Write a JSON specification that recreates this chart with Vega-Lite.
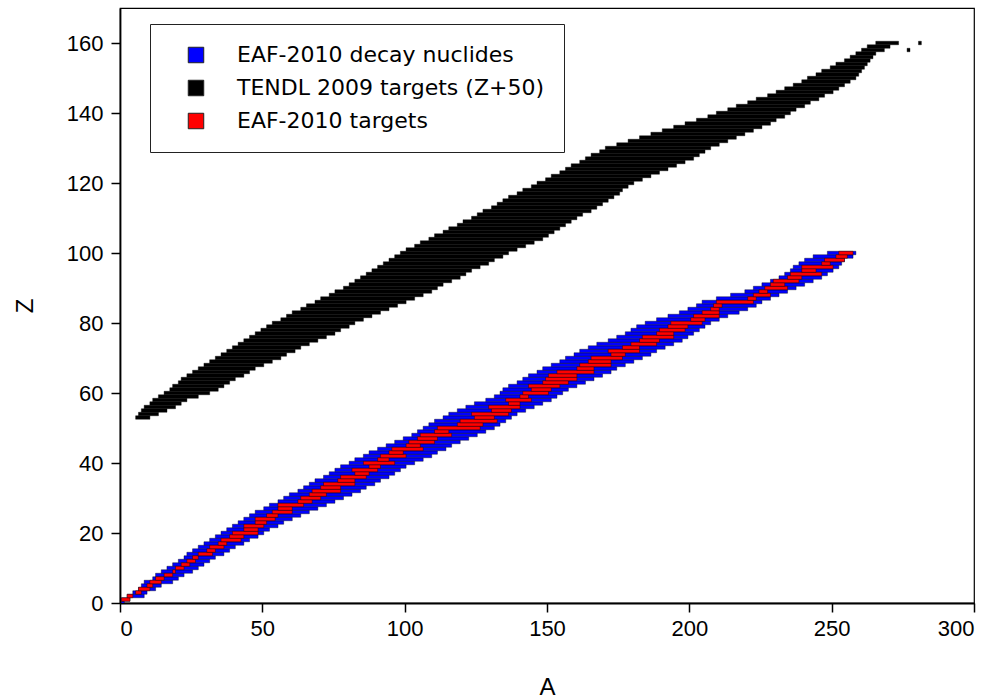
{
  "$schema": "https://vega.github.io/schema/vega-lite/v6.json",
  "autosize": {"type": "none"},
  "padding": {"left": 120, "top": 8, "right": 21, "bottom": 96},
  "width": 854,
  "height": 595,
  "background": "white",
  "config": {
    "view": {"stroke": "black", "strokeWidth": 1.2},
    "axis": {
      "grid": false,
      "domainColor": "black",
      "domainWidth": 1.8,
      "tickColor": "black",
      "tickWidth": 1.5,
      "tickSize": 9,
      "labelFont": "Liberation Sans",
      "labelFontSize": 22,
      "labelColor": "black",
      "titleFont": "Liberation Sans",
      "titleFontSize": 24,
      "titleFontWeight": "normal",
      "titleColor": "black"
    }
  },
  "data": {"values": [
{"s":"k","Z":53,"lo":6,"hi":10},{"s":"k","Z":54,"lo":7,"hi":13},{"s":"k","Z":55,"lo":8,"hi":16},{"s":"k","Z":56,"lo":9,"hi":19},{"s":"k","Z":57,"lo":11,"hi":21},{"s":"k","Z":58,"lo":12,"hi":23},{"s":"k","Z":59,"lo":14,"hi":27},{"s":"k","Z":60,"lo":16,"hi":31},{"s":"k","Z":61,"lo":18,"hi":34},{"s":"k","Z":62,"lo":19,"hi":36},{"s":"k","Z":63,"lo":21,"hi":38},{"s":"k","Z":64,"lo":22,"hi":40},{"s":"k","Z":65,"lo":24,"hi":43},{"s":"k","Z":66,"lo":26,"hi":45},{"s":"k","Z":67,"lo":28,"hi":47},{"s":"k","Z":68,"lo":30,"hi":50},{"s":"k","Z":69,"lo":32,"hi":53},{"s":"k","Z":70,"lo":34,"hi":56},{"s":"k","Z":71,"lo":36,"hi":58},{"s":"k","Z":72,"lo":38,"hi":61},{"s":"k","Z":73,"lo":40,"hi":63},{"s":"k","Z":74,"lo":42,"hi":66},{"s":"k","Z":75,"lo":44,"hi":69},{"s":"k","Z":76,"lo":46,"hi":72},{"s":"k","Z":77,"lo":48,"hi":75},{"s":"k","Z":78,"lo":50,"hi":77},{"s":"k","Z":79,"lo":52,"hi":80},{"s":"k","Z":80,"lo":54,"hi":82},{"s":"k","Z":81,"lo":57,"hi":85},{"s":"k","Z":82,"lo":59,"hi":88},{"s":"k","Z":83,"lo":61,"hi":91},{"s":"k","Z":84,"lo":64,"hi":94},{"s":"k","Z":85,"lo":66,"hi":97},{"s":"k","Z":86,"lo":69,"hi":100},{"s":"k","Z":87,"lo":71,"hi":103},{"s":"k","Z":88,"lo":74,"hi":106},{"s":"k","Z":89,"lo":76,"hi":109},{"s":"k","Z":90,"lo":79,"hi":111},{"s":"k","Z":91,"lo":81,"hi":113},{"s":"k","Z":92,"lo":83,"hi":116},{"s":"k","Z":93,"lo":85,"hi":119},{"s":"k","Z":94,"lo":87,"hi":121},{"s":"k","Z":95,"lo":89,"hi":123},{"s":"k","Z":96,"lo":91,"hi":126},{"s":"k","Z":97,"lo":93,"hi":129},{"s":"k","Z":98,"lo":95,"hi":131},{"s":"k","Z":99,"lo":97,"hi":134},{"s":"k","Z":100,"lo":99,"hi":136},{"s":"k","Z":101,"lo":101,"hi":139},{"s":"k","Z":102,"lo":104,"hi":142},{"s":"k","Z":103,"lo":106,"hi":145},{"s":"k","Z":104,"lo":109,"hi":148},{"s":"k","Z":105,"lo":111,"hi":150},{"s":"k","Z":106,"lo":114,"hi":152},{"s":"k","Z":107,"lo":116,"hi":154},{"s":"k","Z":108,"lo":119,"hi":156},{"s":"k","Z":109,"lo":121,"hi":158},{"s":"k","Z":110,"lo":124,"hi":160},{"s":"k","Z":111,"lo":126,"hi":162},{"s":"k","Z":112,"lo":128,"hi":165},{"s":"k","Z":113,"lo":131,"hi":167},{"s":"k","Z":114,"lo":133,"hi":169},{"s":"k","Z":115,"lo":135,"hi":171},{"s":"k","Z":116,"lo":137,"hi":173},{"s":"k","Z":117,"lo":140,"hi":175},{"s":"k","Z":118,"lo":142,"hi":176},{"s":"k","Z":119,"lo":145,"hi":178},{"s":"k","Z":120,"lo":147,"hi":180},{"s":"k","Z":121,"lo":150,"hi":183},{"s":"k","Z":122,"lo":152,"hi":186},{"s":"k","Z":123,"lo":155,"hi":189},{"s":"k","Z":124,"lo":157,"hi":192},{"s":"k","Z":125,"lo":159,"hi":195},{"s":"k","Z":126,"lo":162,"hi":198},{"s":"k","Z":127,"lo":164,"hi":201},{"s":"k","Z":128,"lo":166,"hi":203},{"s":"k","Z":129,"lo":169,"hi":205},{"s":"k","Z":130,"lo":171,"hi":207},{"s":"k","Z":131,"lo":175,"hi":210},{"s":"k","Z":132,"lo":179,"hi":213},{"s":"k","Z":133,"lo":183,"hi":216},{"s":"k","Z":134,"lo":187,"hi":219},{"s":"k","Z":135,"lo":191,"hi":222},{"s":"k","Z":136,"lo":195,"hi":225},{"s":"k","Z":137,"lo":199,"hi":228},{"s":"k","Z":138,"lo":203,"hi":230},{"s":"k","Z":139,"lo":207,"hi":233},{"s":"k","Z":140,"lo":210,"hi":235},{"s":"k","Z":141,"lo":214,"hi":237},{"s":"k","Z":142,"lo":217,"hi":240},{"s":"k","Z":143,"lo":221,"hi":242},{"s":"k","Z":144,"lo":224,"hi":245},{"s":"k","Z":145,"lo":228,"hi":247},{"s":"k","Z":146,"lo":231,"hi":250},{"s":"k","Z":147,"lo":234,"hi":252},{"s":"k","Z":148,"lo":237,"hi":254},{"s":"k","Z":149,"lo":240,"hi":256},{"s":"k","Z":150,"lo":242,"hi":258},{"s":"k","Z":151,"lo":245,"hi":259},{"s":"k","Z":152,"lo":247,"hi":260},{"s":"k","Z":153,"lo":250,"hi":261},{"s":"k","Z":154,"lo":252,"hi":262},{"s":"k","Z":155,"lo":255,"hi":263},{"s":"k","Z":156,"lo":257,"hi":264},{"s":"k","Z":157,"lo":259,"hi":265},{"s":"k","Z":158,"lo":261,"hi":268},{"s":"k","Z":158,"lo":277,"hi":277},{"s":"k","Z":159,"lo":263,"hi":270},{"s":"k","Z":160,"lo":266,"hi":273},{"s":"k","Z":160,"lo":281,"hi":281},
{"s":"b","Z":0,"lo":1,"hi":1},{"s":"b","Z":1,"lo":1,"hi":3},{"s":"b","Z":2,"lo":3,"hi":8},{"s":"b","Z":3,"lo":5,"hi":9},{"s":"b","Z":4,"lo":7,"hi":12},{"s":"b","Z":5,"lo":8,"hi":14},{"s":"b","Z":6,"lo":9,"hi":18},{"s":"b","Z":7,"lo":12,"hi":20},{"s":"b","Z":8,"lo":13,"hi":22},{"s":"b","Z":9,"lo":15,"hi":25},{"s":"b","Z":10,"lo":17,"hi":27},{"s":"b","Z":11,"lo":19,"hi":29},{"s":"b","Z":12,"lo":21,"hi":31},{"s":"b","Z":13,"lo":23,"hi":33},{"s":"b","Z":14,"lo":24,"hi":36},{"s":"b","Z":15,"lo":26,"hi":38},{"s":"b","Z":16,"lo":28,"hi":40},{"s":"b","Z":17,"lo":30,"hi":43},{"s":"b","Z":18,"lo":32,"hi":45},{"s":"b","Z":19,"lo":34,"hi":48},{"s":"b","Z":20,"lo":36,"hi":50},{"s":"b","Z":21,"lo":38,"hi":52},{"s":"b","Z":22,"lo":40,"hi":55},{"s":"b","Z":23,"lo":42,"hi":57},{"s":"b","Z":24,"lo":44,"hi":60},{"s":"b","Z":25,"lo":46,"hi":63},{"s":"b","Z":26,"lo":48,"hi":66},{"s":"b","Z":27,"lo":51,"hi":69},{"s":"b","Z":28,"lo":53,"hi":72},{"s":"b","Z":29,"lo":56,"hi":75},{"s":"b","Z":30,"lo":58,"hi":78},{"s":"b","Z":31,"lo":60,"hi":81},{"s":"b","Z":32,"lo":63,"hi":84},{"s":"b","Z":33,"lo":65,"hi":86},{"s":"b","Z":34,"lo":67,"hi":89},{"s":"b","Z":35,"lo":69,"hi":91},{"s":"b","Z":36,"lo":72,"hi":94},{"s":"b","Z":37,"lo":74,"hi":96},{"s":"b","Z":38,"lo":76,"hi":98},{"s":"b","Z":39,"lo":78,"hi":100},{"s":"b","Z":40,"lo":81,"hi":103},{"s":"b","Z":41,"lo":83,"hi":106},{"s":"b","Z":42,"lo":86,"hi":109},{"s":"b","Z":43,"lo":88,"hi":111},{"s":"b","Z":44,"lo":91,"hi":114},{"s":"b","Z":45,"lo":94,"hi":116},{"s":"b","Z":46,"lo":97,"hi":119},{"s":"b","Z":47,"lo":100,"hi":122},{"s":"b","Z":48,"lo":103,"hi":125},{"s":"b","Z":49,"lo":105,"hi":128},{"s":"b","Z":50,"lo":107,"hi":131},{"s":"b","Z":51,"lo":109,"hi":133},{"s":"b","Z":52,"lo":111,"hi":135},{"s":"b","Z":53,"lo":114,"hi":137},{"s":"b","Z":54,"lo":116,"hi":139},{"s":"b","Z":55,"lo":119,"hi":142},{"s":"b","Z":56,"lo":122,"hi":145},{"s":"b","Z":57,"lo":125,"hi":148},{"s":"b","Z":58,"lo":129,"hi":151},{"s":"b","Z":59,"lo":132,"hi":153},{"s":"b","Z":60,"lo":134,"hi":155},{"s":"b","Z":61,"lo":135,"hi":157},{"s":"b","Z":62,"lo":137,"hi":160},{"s":"b","Z":63,"lo":140,"hi":163},{"s":"b","Z":64,"lo":142,"hi":166},{"s":"b","Z":65,"lo":144,"hi":169},{"s":"b","Z":66,"lo":147,"hi":172},{"s":"b","Z":67,"lo":149,"hi":174},{"s":"b","Z":68,"lo":152,"hi":177},{"s":"b","Z":69,"lo":155,"hi":180},{"s":"b","Z":70,"lo":157,"hi":183},{"s":"b","Z":71,"lo":160,"hi":186},{"s":"b","Z":72,"lo":162,"hi":188},{"s":"b","Z":73,"lo":165,"hi":191},{"s":"b","Z":74,"lo":168,"hi":194},{"s":"b","Z":75,"lo":172,"hi":197},{"s":"b","Z":76,"lo":175,"hi":199},{"s":"b","Z":77,"lo":178,"hi":201},{"s":"b","Z":78,"lo":180,"hi":203},{"s":"b","Z":79,"lo":182,"hi":205},{"s":"b","Z":80,"lo":185,"hi":207},{"s":"b","Z":81,"lo":189,"hi":210},{"s":"b","Z":82,"lo":193,"hi":213},{"s":"b","Z":83,"lo":197,"hi":217},{"s":"b","Z":84,"lo":200,"hi":220},{"s":"b","Z":85,"lo":203,"hi":223},{"s":"b","Z":86,"lo":205,"hi":225},{"s":"b","Z":87,"lo":210,"hi":228},{"s":"b","Z":88,"lo":215,"hi":231},{"s":"b","Z":89,"lo":220,"hi":234},{"s":"b","Z":90,"lo":223,"hi":237},{"s":"b","Z":91,"lo":226,"hi":240},{"s":"b","Z":92,"lo":229,"hi":243},{"s":"b","Z":93,"lo":232,"hi":246},{"s":"b","Z":94,"lo":234,"hi":248},{"s":"b","Z":95,"lo":236,"hi":250},{"s":"b","Z":96,"lo":237,"hi":252},{"s":"b","Z":97,"lo":239,"hi":253},{"s":"b","Z":98,"lo":241,"hi":254},{"s":"b","Z":99,"lo":244,"hi":257},{"s":"b","Z":100,"lo":249,"hi":258},
{"s":"r","Z":1,"lo":1,"hi":3},{"s":"r","Z":2,"lo":3,"hi":4},{"s":"r","Z":3,"lo":6,"hi":7},{"s":"r","Z":4,"lo":7,"hi":10},{"s":"r","Z":5,"lo":10,"hi":11},{"s":"r","Z":6,"lo":11,"hi":14},{"s":"r","Z":7,"lo":13,"hi":15},{"s":"r","Z":8,"lo":16,"hi":18},{"s":"r","Z":9,"lo":19,"hi":19},{"s":"r","Z":10,"lo":20,"hi":22},{"s":"r","Z":11,"lo":22,"hi":24},{"s":"r","Z":12,"lo":24,"hi":26},{"s":"r","Z":13,"lo":26,"hi":27},{"s":"r","Z":14,"lo":28,"hi":32},{"s":"r","Z":15,"lo":31,"hi":33},{"s":"r","Z":16,"lo":32,"hi":36},{"s":"r","Z":17,"lo":35,"hi":37},{"s":"r","Z":18,"lo":36,"hi":42},{"s":"r","Z":19,"lo":39,"hi":43},{"s":"r","Z":20,"lo":40,"hi":48},{"s":"r","Z":21,"lo":44,"hi":48},{"s":"r","Z":22,"lo":44,"hi":50},{"s":"r","Z":23,"lo":48,"hi":51},{"s":"r","Z":24,"lo":48,"hi":54},{"s":"r","Z":25,"lo":52,"hi":55},{"s":"r","Z":26,"lo":54,"hi":60},{"s":"r","Z":27,"lo":56,"hi":60},{"s":"r","Z":28,"lo":56,"hi":64},{"s":"r","Z":29,"lo":63,"hi":67},{"s":"r","Z":30,"lo":64,"hi":70},{"s":"r","Z":31,"lo":67,"hi":72},{"s":"r","Z":32,"lo":68,"hi":77},{"s":"r","Z":33,"lo":71,"hi":77},{"s":"r","Z":34,"lo":72,"hi":82},{"s":"r","Z":35,"lo":77,"hi":82},{"s":"r","Z":36,"lo":78,"hi":86},{"s":"r","Z":37,"lo":83,"hi":87},{"s":"r","Z":38,"lo":82,"hi":90},{"s":"r","Z":39,"lo":88,"hi":91},{"s":"r","Z":40,"lo":86,"hi":96},{"s":"r","Z":41,"lo":91,"hi":94},{"s":"r","Z":42,"lo":92,"hi":100},{"s":"r","Z":43,"lo":95,"hi":99},{"s":"r","Z":44,"lo":96,"hi":106},{"s":"r","Z":45,"lo":101,"hi":105},{"s":"r","Z":46,"lo":102,"hi":110},{"s":"r","Z":47,"lo":105,"hi":111},{"s":"r","Z":48,"lo":106,"hi":116},{"s":"r","Z":49,"lo":111,"hi":115},{"s":"r","Z":50,"lo":112,"hi":126},{"s":"r","Z":51,"lo":119,"hi":127},{"s":"r","Z":52,"lo":120,"hi":132},{"s":"r","Z":53,"lo":125,"hi":131},{"s":"r","Z":54,"lo":124,"hi":136},{"s":"r","Z":55,"lo":131,"hi":137},{"s":"r","Z":56,"lo":130,"hi":140},{"s":"r","Z":57,"lo":137,"hi":140},{"s":"r","Z":58,"lo":136,"hi":144},{"s":"r","Z":59,"lo":141,"hi":143},{"s":"r","Z":60,"lo":142,"hi":150},{"s":"r","Z":61,"lo":145,"hi":151},{"s":"r","Z":62,"lo":144,"hi":154},{"s":"r","Z":63,"lo":149,"hi":157},{"s":"r","Z":64,"lo":150,"hi":160},{"s":"r","Z":65,"lo":151,"hi":160},{"s":"r","Z":66,"lo":154,"hi":166},{"s":"r","Z":67,"lo":161,"hi":166},{"s":"r","Z":68,"lo":162,"hi":172},{"s":"r","Z":69,"lo":165,"hi":172},{"s":"r","Z":70,"lo":166,"hi":176},{"s":"r","Z":71,"lo":173,"hi":177},{"s":"r","Z":72,"lo":172,"hi":182},{"s":"r","Z":73,"lo":177,"hi":182},{"s":"r","Z":74,"lo":180,"hi":188},{"s":"r","Z":75,"lo":183,"hi":189},{"s":"r","Z":76,"lo":184,"hi":194},{"s":"r","Z":77,"lo":189,"hi":194},{"s":"r","Z":78,"lo":190,"hi":198},{"s":"r","Z":79,"lo":193,"hi":199},{"s":"r","Z":80,"lo":194,"hi":204},{"s":"r","Z":81,"lo":201,"hi":205},{"s":"r","Z":82,"lo":202,"hi":210},{"s":"r","Z":83,"lo":205,"hi":210},{"s":"r","Z":84,"lo":208,"hi":210},{"s":"r","Z":85,"lo":209,"hi":211},{"s":"r","Z":86,"lo":210,"hi":222},{"s":"r","Z":87,"lo":221,"hi":223},{"s":"r","Z":88,"lo":223,"hi":228},{"s":"r","Z":89,"lo":225,"hi":227},{"s":"r","Z":90,"lo":227,"hi":234},{"s":"r","Z":91,"lo":229,"hi":233},{"s":"r","Z":92,"lo":230,"hi":238},{"s":"r","Z":93,"lo":235,"hi":239},{"s":"r","Z":94,"lo":236,"hi":246},{"s":"r","Z":95,"lo":240,"hi":244},{"s":"r","Z":96,"lo":240,"hi":250},{"s":"r","Z":97,"lo":247,"hi":249},{"s":"r","Z":98,"lo":248,"hi":254},{"s":"r","Z":99,"lo":252,"hi":255},{"s":"r","Z":100,"lo":253,"hi":257}
  ]},
  "mark": {
    "type": "rect",
    "stroke": "black",
    "strokeWidth": 0.4,
    "xOffset": -1.45,
    "x2Offset": 1.45,
    "yOffset": 1.75,
    "y2Offset": -1.75,
    "clip": true
  },
  "encoding": {
    "x": {
      "field": "lo", "type": "quantitative",
      "scale": {"domain": [0, 300], "nice": false, "zero": false},
      "axis": {"title": "A", "values": [0, 50, 100, 150, 200, 250, 300], "labelPadding": 6, "titlePadding": 36}
    },
    "x2": {"field": "hi"},
    "y": {
      "field": "Z", "type": "quantitative",
      "scale": {"domain": [0, 170], "nice": false, "zero": false},
      "axis": {"title": "Z", "values": [0, 20, 40, 60, 80, 100, 120, 140, 160], "labelPadding": 8, "titlePadding": 29}
    },
    "y2": {"field": "Z"},
    "color": {
      "field": "s", "type": "nominal",
      "scale": {"domain": ["b", "k", "r"], "range": ["#0000ff", "#000000", "#ff0000"]},
      "legend": {
        "title": null,
        "orient": "none",
        "legendX": 30,
        "legendY": 16,
        "direction": "vertical",
        "fillColor": "white",
        "strokeColor": "#222222",
        "padding": 20,
        "symbolType": "square",
        "symbolSize": 240,
        "symbolStrokeColor": "#222222",
        "symbolStrokeWidth": 1,
        "symbolOffset": 15,
        "labelOffset": 30,
        "labelFont": "DejaVu Sans",
        "labelFontSize": 22,
        "labelColor": "black",
        "rowPadding": 11,
        "labelLimit": 400,
        "labelExpr": "datum.label == 'b' ? 'EAF-2010 decay nuclides' : datum.label == 'k' ? 'TENDL 2009 targets (Z+50)' : 'EAF-2010 targets'"
      }
    }
  }
}
